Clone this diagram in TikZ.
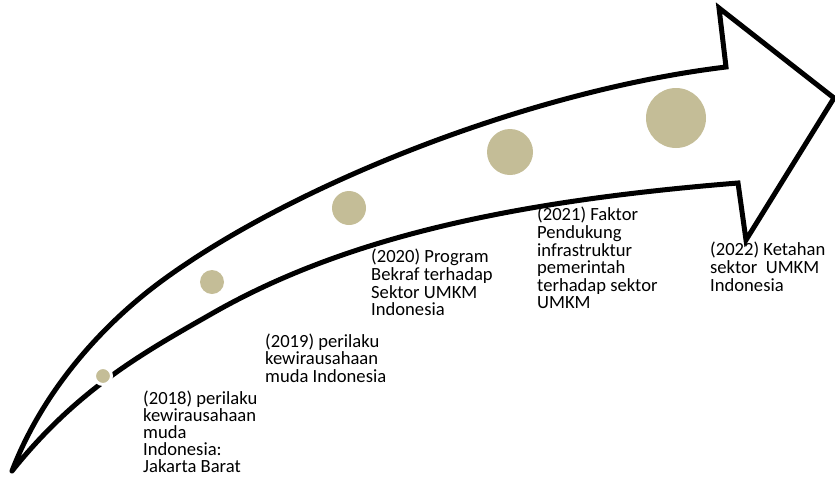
\documentclass[tikz,border=0pt]{standalone}
\usepackage{fontspec}
\setmainfont{Carlito}
\definecolor{dottan}{HTML}{C4BD97}
\begin{document}
\begin{tikzpicture}[x=1pt,y=-1pt,
  arrowline/.style={line width=5pt, line join=miter, line cap=round},
  dot/.style={circle, fill=dottan, inner sep=0pt, outer sep=0pt},
  lbl/.style={anchor=north west, align=left, inner sep=0pt, font=\fontsize{18.6}{17.6}\selectfont},
  lbltight/.style={lbl, font=\fontsize{18.6}{17.0}\selectfont}]
\useasboundingbox (0,0) rectangle (835,477);
\coordinate (tip) at (12,471);
\coordinate (uj) at (726,67);
\coordinate (ht) at (719,8);
\coordinate (hp) at (834,98);
\coordinate (hb) at (746,240);
\coordinate (lj) at (738,183);
\draw[arrowline] (tip) .. controls (44.3,387) and (106.4,321.3) .. (163,280)
  .. controls (292,185.6) and (527.4,91) .. (uj)
  -- (ht) -- (hp) -- (hb) -- (lj)
  .. controls (508.7,201.4) and (343.4,238.7) .. (213,313)
  .. controls (143.5,352.6) and (77.6,389) .. (tip);
\node[dot, minimum size=17pt, draw=white, line width=3pt] (c1) at (103,376) {};
\node[dot, minimum size=24pt] (c2) at (212,282) {};
\node[dot, minimum size=34pt] (c3) at (349,208) {};
\node[dot, minimum size=46pt] (c4) at (510,152) {};
\node[dot, minimum size=60pt] (c5) at (676,118) {};
\node[lbltight] (t1) at (143,391) {(2018) perilaku\\kewirausahaan\\muda\\Indonesia:\\Jakarta Barat};
\node[lbl] (t2) at (265,333.5) {(2019) perilaku\\kewirausahaan\\muda Indonesia};
\node[lbl] (t3) at (371,249) {(2020) Program\\Bekraf terhadap\\Sektor UMKM\\Indonesia};
\node[lbl] (t4) at (537,207) {(2021) Faktor\\Pendukung\\infrastruktur\\pemerintah\\terhadap sektor\\UMKM};
\node[lbl] (t5) at (710,242) {(2022) Ketahan\\sektor\ \ UMKM\\Indonesia};
\end{tikzpicture}
\end{document}
